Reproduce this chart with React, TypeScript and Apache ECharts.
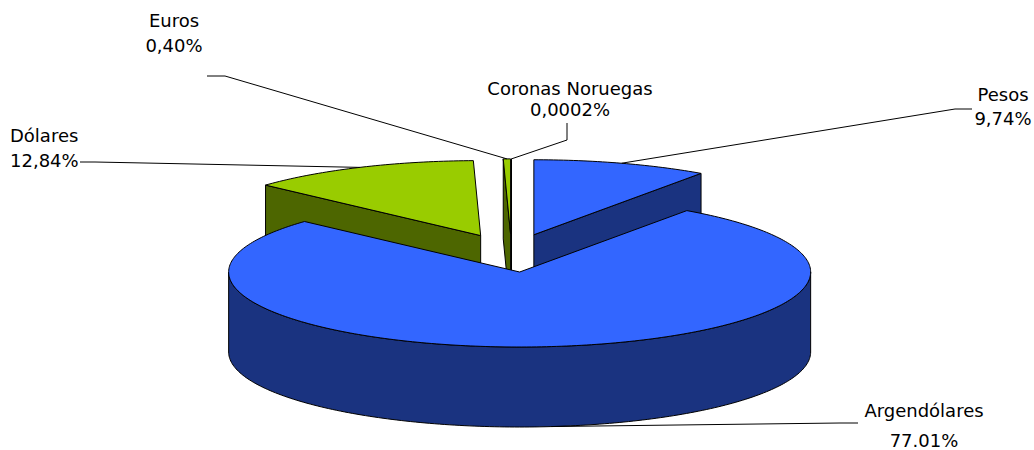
import React, { useEffect, useRef } from "react";
import * as echarts from "echarts";

// ---- data ----
const categories = ["Pesos", "Argendólares", "Dólares", "Euros", "Coronas Noruegas"];
const shares = [9.74, 77.01, 12.84, 0.4, 0.0002];
const shareLabels = ["9,74%", "77.01%", "12,84%", "0,40%", "0,0002%"];

// ---- styles ----
const topColors = ["#3366FF", "#3366FF", "#99CC00", "#99CC00", "#99CC00"];
const sideColors = ["#1A3380", "#1A3380", "#4D6600", "#4D6600", "#4D6600"];

// ---- layout ----
const PIE = { cx: 511.5, cy: 253, rx: 291, ry: 75, depth: 80, explode: 0.255 };
const labelX = [1003, 924, 10, 174, 570];
const labelY = [94, 410, 135, 20.5, 88];
const labelAlign = ["center", "center", "left", "center", "center"];
const labelLineHeight = [24, 30, 25, 25, 21];
const leaderElbows = [
  [[972, 109], [955, 109]],
  [[858, 423], [840, 423]],
  [[80, 162], [95, 162]],
  [[207, 76], [225, 76]],
  [[567, 123], [567, 140]],
];

const total = shares.reduce((a, b) => a + b, 0);
const rad = (d: number) => (d * Math.PI) / 180;

function sliceGeom(i: number) {
  let start = 0;
  for (let k = 0; k < i; k++) start += (shares[k] / total) * 360;
  const end = start + (shares[i] / total) * 360;
  const mid = (start + end) / 2;
  const ax = PIE.cx + PIE.explode * PIE.rx * Math.sin(rad(mid));
  const ay = PIE.cy - PIE.explode * PIE.ry * Math.cos(rad(mid));
  const pt = (deg: number, dz = 0) => [
    ax + PIE.rx * Math.sin(rad(deg)),
    ay - PIE.ry * Math.cos(rad(deg)) + dz,
  ];
  const arc = (a: number, b: number, dz = 0) => {
    const n = Math.max(1, Math.ceil((b - a) / 1));
    const pts: number[][] = [];
    for (let k = 0; k <= n; k++) pts.push(pt(a + ((b - a) * k) / n, dz));
    return pts;
  };
  return { start, end, mid, ax, ay, pt, arc };
}

function renderItem(params: any) {
  const i = params.dataIndex;
  const g = sliceGeom(i);
  const D = PIE.depth;
  const base = g.ay * 100;
  const edge = { stroke: "#000", lineWidth: 1, lineJoin: "round" };
  const children: any[] = [];
  const apex = [g.ax, g.ay];
  const apexB = [g.ax, g.ay + D];

  if (Math.sin(rad(g.start)) < -1e-9) {
    children.push({
      type: "polygon",
      z2: base + 1,
      shape: { points: [apex, g.pt(g.start), g.pt(g.start, D), apexB] },
      style: { fill: sideColors[i], ...edge },
    });
  }
  if (Math.sin(rad(g.end)) > 1e-9) {
    children.push({
      type: "polygon",
      z2: base + 1,
      shape: { points: [apex, g.pt(g.end), g.pt(g.end, D), apexB] },
      style: { fill: sideColors[i], ...edge },
    });
  }
  const lo = Math.max(g.start, 90);
  const hi = Math.min(g.end, 270);
  if (hi > lo) {
    const pts = g.arc(lo, hi, 0).concat(g.arc(lo, hi, D).reverse());
    children.push({
      type: "polygon",
      z2: base + 2,
      shape: { points: pts },
      style: { fill: sideColors[i], ...edge },
    });
  }
  children.push({
    type: "polygon",
    z2: base + 3,
    shape: { points: [apex].concat(g.arc(g.start, g.end, 0)) },
    style: { fill: topColors[i], ...edge },
  });

  const front = g.mid > 90 && g.mid < 270;
  const anchor = g.pt(g.mid, front ? D : 0);
  children.push({
    type: "polyline",
    z2: 100000,
    shape: { points: leaderElbows[i].concat([anchor]) },
    style: { stroke: "#000", lineWidth: 1, fill: null },
  });
  children.push({
    type: "text",
    z2: 100001,
    style: {
      text: categories[i] + "\n" + shareLabels[i],
      x: labelX[i],
      y: labelY[i] - labelLineHeight[i] / 2,
      align: labelAlign[i],
      verticalAlign: "top",
      lineHeight: labelLineHeight[i],
      fontFamily: "DejaVu Sans",
      fontSize: 18,
      fill: "#000",
    },
  });
  return { type: "group", children };
}

export default function App() {
  const ref = useRef<HTMLDivElement>(null);
  useEffect(() => {
    document.body.style.margin = "0";
    const chart = echarts.init(ref.current!, null, { renderer: "svg" });
    chart.setOption({
      animation: false,
      backgroundColor: "#fff",
      series: [
        {
          type: "custom",
          coordinateSystem: "none",
          data: shares.map((v, i) => ({ name: categories[i], value: v })),
          renderItem,
        },
      ],
    });
    return () => chart.dispose();
  }, []);
  return <div ref={ref} style={{ width: 1034, height: 450 }} />;
}
